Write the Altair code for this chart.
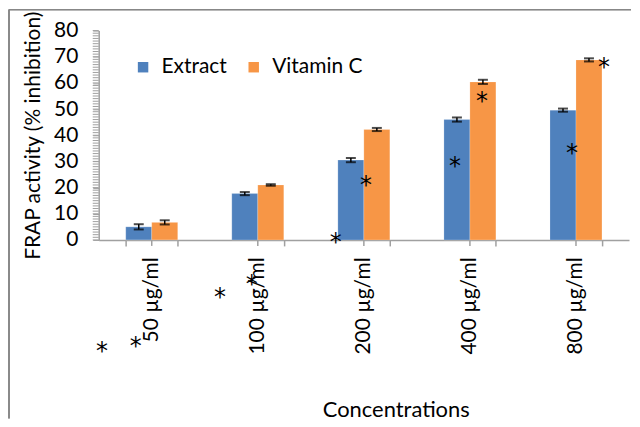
import altair as alt
import pandas as pd

categories = ["50 µg/ml", "100 µg/ml", "200 µg/ml", "400 µg/ml", "800 µg/ml"]
series = ["Extract", "Vitamin C"]
extract = [5.0, 17.7, 30.5, 46.0, 49.6]
vitamin_c = [6.7, 21.0, 42.2, 60.4, 68.8]
extract_err = [1.0, 0.6, 0.8, 0.8, 0.6]
vitamin_c_err = [0.8, 0.3, 0.6, 0.8, 0.6]

major_ticks = [0, 10, 20, 30, 40, 50, 60, 70, 80]
minor_ticks = list(range(0, 81, 1))

# stray asterisks: category, offset in bar widths from the category centre, y value
star_cat = ["50 µg/ml", "50 µg/ml", "100 µg/ml", "100 µg/ml", "200 µg/ml",
            "200 µg/ml", "400 µg/ml", "400 µg/ml", "800 µg/ml", "800 µg/ml"]
star_offset = [-1.92, -0.62, -1.46, -0.23, -1.08, 0.08, -0.58, 0.46, -0.15, 1.08]
star_value = [-40.6, -38.7, -20.0, -15.0, 1.1, 23.0, 30.3, 54.8, 35.2, 67.8]

rows = []
for i, c in enumerate(categories):
    rows.append({"cat": c, "series": "Extract", "value": extract[i],
                 "lo": extract[i] - extract_err[i], "hi": extract[i] + extract_err[i]})
    rows.append({"cat": c, "series": "Vitamin C", "value": vitamin_c[i],
                 "lo": vitamin_c[i] - vitamin_c_err[i], "hi": vitamin_c[i] + vitamin_c_err[i]})
df = pd.DataFrame(rows)
stars = pd.DataFrame({"cat": star_cat, "off": star_offset, "value": star_value, "t": ["*"] * len(star_cat)})
cats = pd.DataFrame({"cat": categories})
minor = pd.DataFrame({"v": minor_ticks})

W, H = 532, 210
FONT = "Lato"
AXC = "#a0a0a0"

xscale = alt.Scale(domain=categories, paddingInner=0.51, paddingOuter=0.255)
yscale = alt.Scale(domain=[0, 80])

x_axis = alt.Axis(title="Concentrations", labelAngle=270, tickBand="extent",
                  labelFontSize=21, labelFont=FONT, labelColor="black",
                  labelPadding=11, tickSize=6, domainColor=AXC, tickColor=AXC,
                  domainWidth=1.5, tickWidth=1.5,
                  titleFontSize=22, titleFont=FONT, titleFontWeight="normal",
                  titleColor="black", titleX=298, titleY=160, titleBaseline="top")
y_axis = alt.Axis(title="FRAP activity (% inhibition)", values=major_ticks, tickCount=9,
                  labelOverlap=False,
                  grid=False, labelFontSize=21, labelFont=FONT, labelColor="black",
                  tickSize=6, domainColor=AXC, tickColor=AXC, domainWidth=1.5,
                  titleFontSize=21, titleFont=FONT, titleFontWeight="normal",
                  titleColor="black", titlePadding=10, labelPadding=15)

X = alt.X("cat:N", scale=xscale, sort=categories, axis=x_axis)

base = alt.Chart(df)

bars = base.mark_bar(stroke="white", strokeWidth=0.5, strokeOpacity=0.4).encode(
    x=X,
    xOffset=alt.XOffset("series:N", sort=series),
    y=alt.Y("value:Q", scale=yscale, axis=y_axis),
    color=alt.Color("series:N", scale=alt.Scale(domain=series, range=["#4F81BD", "#F79646"]),
                    legend=alt.Legend(title=None, orient="none", legendX=34, legendY=26,
                                      direction="horizontal", symbolType="square",
                                      symbolSize=110, symbolStrokeWidth=0,
                                      labelFontSize=21, labelFont=FONT, labelColor="black",
                                      labelOffset=8, columnPadding=16)),
)

err = base.mark_rule(color="black", strokeWidth=1.5).encode(
    x=X,
    xOffset=alt.XOffset("series:N", sort=series),
    y=alt.Y("lo:Q", scale=yscale, axis=y_axis),
    y2="hi:Q",
)
cap_lo = base.mark_tick(color="black", thickness=2, size=10).encode(
    x=X,
    xOffset=alt.XOffset("series:N", sort=series),
    y=alt.Y("lo:Q", scale=yscale, axis=y_axis),
)
cap_hi = base.mark_tick(color="black", thickness=2, size=10).encode(
    x=X,
    xOffset=alt.XOffset("series:N", sort=series),
    y=alt.Y("hi:Q", scale=yscale, axis=y_axis),
)

center_ticks = alt.Chart(cats).mark_rule(color=AXC, strokeWidth=1.5).encode(
    x=X,
    y=alt.value(H),
    y2=alt.value(H + 6),
)

minor_layer = alt.Chart(minor).mark_rule(color=AXC, strokeWidth=1).encode(
    y=alt.Y("v:Q", scale=yscale, axis=y_axis),
    x=alt.value(-6),
    x2=alt.value(0),
)

star_layer = alt.Chart(stars).mark_text(fontSize=24, font="DejaVu Sans", color="black",
                                        baseline="middle", dy=6, clip=False).encode(
    x=X,
    xOffset=alt.XOffset("off:Q", scale=alt.Scale(domain=[-1, 1])),
    y=alt.Y("value:Q", scale=yscale, axis=y_axis),
    text="t:N",
)

frame_top = alt.Chart(cats).mark_rule(color="#888888", strokeWidth=1).encode(
    x=alt.value(-90), x2=alt.value(W + 2), y=alt.value(-21)
)
frame_left = alt.Chart(cats).mark_rule(color="#888888", strokeWidth=1).encode(
    x=alt.value(-90), y=alt.value(-21), y2=alt.value(389)
)

chart = alt.layer(bars, err, cap_lo, cap_hi, center_ticks, minor_layer, star_layer,
                  frame_top, frame_left).resolve_scale(
    xOffset="independent"
).properties(width=W, height=H, padding=0).configure_view(stroke=None).configure_axisY(
    labelOverlap=False
)

chart.save("out.html", embed_options={"renderer": "svg", "actions": False})
